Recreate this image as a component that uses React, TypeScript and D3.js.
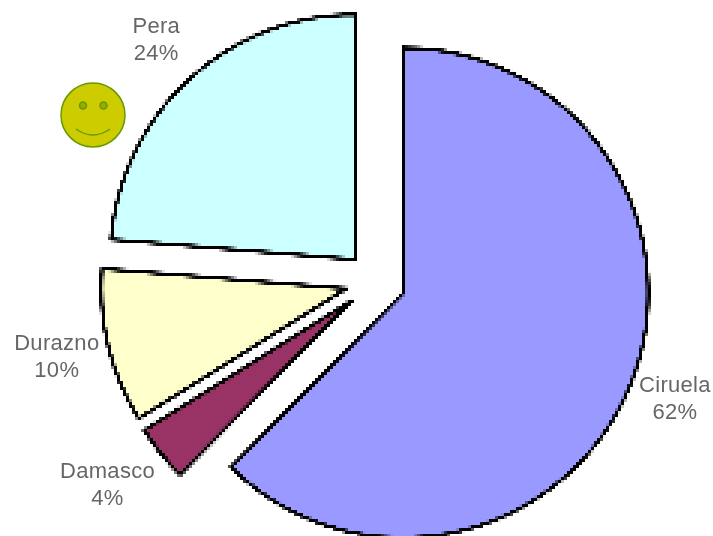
import * as d3 from "d3";

const fruits = ["Ciruela", "Damasco", "Durazno", "Pera"];
const shares = [62.4, 3.7, 10.2, 23.7];
const sliceColors = ["#9999FF", "#993366", "#FFFFCC", "#CCFFFF"];
// hand tweaks for label placement, [x, y] per slice
const labelNudges = [
  [-4, -8],
  [-12, -3],
  [0, -3],
  [3, -1],
];

const width = 713;
const height = 536;
const cx = 375.5;
const cy = 281.5;
const radius = 245;
const explode = 30;
const labelRadius = 298;

interface Slice {
  name: string;
  value: number;
  color: string;
  nudge: number[];
}

const slices: Slice[] = fruits.map((name, i) => ({
  name,
  value: shares[i],
  color: sliceColors[i],
  nudge: labelNudges[i],
}));

export default function App() {
  const pie = d3
    .pie<Slice>()
    .sort(null)
    .value((d) => d.value);
  const arc = d3.arc<d3.PieArcDatum<Slice>>().innerRadius(0).outerRadius(radius);
  const labelArc = d3
    .arc<d3.PieArcDatum<Slice>>()
    .innerRadius(labelRadius)
    .outerRadius(labelRadius);
  const arcs = pie(slices);

  const offset = (mid: number) => [
    Math.sin(mid) * explode,
    -Math.cos(mid) * explode,
  ];

  return (
    <svg
      width={width}
      height={height}
      style={{ position: "absolute", left: 0, top: 0, background: "#fff" }}
    >
      <defs>
        {/* the source image is a low-res bitmap scaled up, so sample it in blocks */}
        <filter
          id="blocky"
          filterUnits="userSpaceOnUse"
          primitiveUnits="userSpaceOnUse"
          x={0}
          y={0}
          width={width}
          height={height}
          colorInterpolationFilters="sRGB"
        >
          <feFlood x={1} y={1} width={1} height={1} />
          <feComposite x={0} y={0} width={3} height={3} />
          <feTile x={0} y={0} width={width} height={height} result="dots" />
          <feComposite in="SourceGraphic" in2="dots" operator="in" />
          <feMorphology operator="dilate" radius={1} />
        </filter>
        {/* labels stay readable, only softened */}
        <filter id="soft" x="-10%" y="-10%" width="120%" height="120%">
          <feGaussianBlur stdDeviation={0.6} />
        </filter>
      </defs>

      <g filter="url(#blocky)">
        <rect width={width} height={height} fill="#fff" />
        <g transform={`translate(${cx}, ${cy})`}>
          {arcs.map((d) => {
            const [dx, dy] = offset((d.startAngle + d.endAngle) / 2);
            return (
              <path
                key={d.data.name}
                transform={`translate(${dx}, ${dy})`}
                d={arc(d) || ""}
                fill={d.data.color}
                stroke="#000"
                strokeWidth={3.6}
                strokeLinejoin="miter"
              />
            );
          })}
        </g>
      </g>

      <g transform={`translate(${cx}, ${cy})`} filter="url(#soft)">
        {arcs.map((d) => {
          const [dx, dy] = offset((d.startAngle + d.endAngle) / 2);
          const [lx, ly] = labelArc.centroid(d);
          const tx = lx + d.data.nudge[0];
          return (
            <text
              key={d.data.name}
              transform={`translate(${dx}, ${dy})`}
              y={ly + d.data.nudge[1]}
              textAnchor="middle"
              fontFamily="Liberation Sans, Arial, sans-serif"
              fontSize={22}
              letterSpacing={0.3}
              fill="#666"
            >
              <tspan x={tx} dy={-6}>
                {d.data.name}
              </tspan>
              <tspan x={tx} dy={27}>
                {d3.format(".0f")(d.data.value)}%
              </tspan>
            </text>
          );
        })}
      </g>

      {/* Smiley */}
      <g transform="translate(93, 115)" stroke="#669900" fill="#CCCC00">
        <circle r={32} strokeWidth={1.5} />
        <circle cx={-10} cy={-9.5} r={3.5} strokeWidth={1.5} fill="#99AA00" />
        <circle cx={10.5} cy={-9.5} r={3.5} strokeWidth={1.5} fill="#99AA00" />
        <path d="M-17 14 Q0 26 17 14" fill="none" strokeWidth={1.5} />
      </g>
    </svg>
  );
}
